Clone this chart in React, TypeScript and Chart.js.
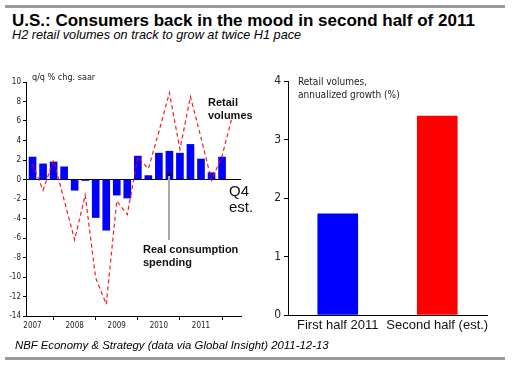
import React, { useEffect, useRef } from "react";
import { Chart, registerables } from "chart.js";
Chart.register(...registerables);

const quarters = [
  "2007Q1", "2007Q2", "2007Q3", "2007Q4",
  "2008Q1", "2008Q2", "2008Q3", "2008Q4",
  "2009Q1", "2009Q2", "2009Q3", "2009Q4",
  "2010Q1", "2010Q2", "2010Q3", "2010Q4",
  "2011Q1", "2011Q2", "2011Q3", "2011Q4",
];
const yearLabels = ["2007", "2008", "2009", "2010", "2011"];
const consumption: (number | null)[] = [
  2.3, 1.6, 1.8, 1.3,
  -1.1, -0.1, -3.9, -5.2,
  -1.6, -1.9, 2.4, 0.4,
  2.7, 2.9, 2.7, 3.6,
  2.1, 0.7, 2.3, null,
];
const retail = [
  1.6, -1.1, 2.0, -2.1,
  -6.2, -1.6, -10.1, -12.8,
  -2.2, -3.6, 2.3, 1.1,
  4.9, 8.9, 3.1, 8.5,
  4.3, -0.1, 2.4, 6.6,
];
const leftTicks = [10, 8, 6, 4, 2, 0, -2, -4, -6, -8, -10, -12, -14];
const halves = ["First half 2011", "Second half (est.)"];
const halfValues = [1.73, 3.4];
const halfColors = ["#0000ff", "#ff0000"];
const rightTicks = [0, 1, 2, 3, 4];

const NARROW = "'Liberation Sans Narrow', 'Arial Narrow', 'DejaVu Sans Condensed', 'Liberation Sans', Arial, sans-serif";
const SANS = "'Liberation Sans', Arial, sans-serif";

function LeftChart() {
  const ref = useRef<HTMLCanvasElement>(null);
  useEffect(() => {
    const chart = new Chart(ref.current!, {
      type: "bar",
      data: {
        datasets: [
          {
            type: "line",
            label: "Retail volumes",
            data: retail.map((v, i) => ({ x: i, y: v })),
            borderColor: "rgba(255,0,0,0.9)",
            borderWidth: 1.2,
            borderDash: [4, 3],
            pointRadius: 0,
            tension: 0,
            order: 0,
          } as any,
          {
            type: "bar",
            label: "Real consumption spending",
            data: consumption.map((v, i) => ({ x: i, y: v })),
            backgroundColor: "#0000ff",
            barThickness: 7,
            order: 1,
          } as any,
        ],
      },
      options: {
        animation: false,
        responsive: false,
        layout: { padding: { top: 12, right: 9, left: 0, bottom: 0 } },
        plugins: { legend: { display: false }, tooltip: { enabled: false } },
        scales: {
          x: {
            type: "linear",
            offset: false,
            min: -0.62,
            max: 19.8,
            afterBuildTicks: (s: any) => {
              s.ticks = yearLabels.map((_, k) => ({ value: quarters.indexOf(yearLabels[k] + "Q1") }));
            },
            afterFit: (s: any) => { s.height = 24; },
            ticks: {
              autoSkip: false,
              maxRotation: 0,
              padding: 1,
              color: "#222",
              font: { family: NARROW, size: 8 },
              callback: (v: any) => quarters[v] ? quarters[v].slice(0, 4) : "",
            },
            grid: { display: true, drawOnChartArea: false, drawTicks: true, tickLength: 4, tickColor: "#000" },
            border: { color: "#000", width: 1 },
          },
          y: {
            min: -14,
            max: 10,
            afterBuildTicks: (s: any) => { s.ticks = leftTicks.map((v) => ({ value: v })); },
            afterFit: (s: any) => { s.width = 26; },
            ticks: { padding: 2, color: "#222", font: { family: NARROW, size: 8 } },
            grid: {
              drawOnChartArea: true,
              drawTicks: true,
              tickLength: 3,
              tickColor: "#000",
              color: (ctx: any) => (ctx.tick && ctx.tick.value === 0 ? "#000" : "rgba(0,0,0,0)"),
            },
            border: { color: "#000", width: 1 },
          },
        },
      } as any,
    });
    return () => chart.destroy();
  }, []);
  return <canvas ref={ref} width={250} height={270} style={{ position: "absolute", left: 0, top: 70 }} />;
}

function RightChart() {
  const ref = useRef<HTMLCanvasElement>(null);
  useEffect(() => {
    const chart = new Chart(ref.current!, {
      type: "bar",
      data: {
        labels: halves,
        datasets: [
          {
            label: "Retail volumes, annualized growth (%)",
            data: halfValues,
            backgroundColor: halfColors,
            barThickness: 40,
          },
        ],
      },
      options: {
        animation: false,
        responsive: false,
        layout: { padding: { top: 11, right: 27, left: 0, bottom: 0 } },
        plugins: { legend: { display: false }, tooltip: { enabled: false } },
        scales: {
          x: {
            afterFit: (s: any) => { s.height = 25; },
            ticks: { padding: 3, color: "#111", font: { family: SANS, size: 13 }, maxRotation: 0, autoSkip: false },
            grid: { display: false, drawTicks: false, tickLength: 0 },
            border: { color: "#000", width: 1 },
          },
          y: {
            min: 0,
            max: 4,
            afterBuildTicks: (s: any) => { s.ticks = rightTicks.map((v) => ({ value: v })); },
            afterFit: (s: any) => { s.width = 28; },
            ticks: { padding: 3, color: "#223", font: { family: NARROW, size: 12 } },
            grid: { drawOnChartArea: false, drawTicks: true, tickLength: 4, tickColor: "#000" },
            border: { color: "#000", width: 1 },
          },
        },
      } as any,
    });
    return () => chart.destroy();
  }, []);
  return <canvas ref={ref} width={254} height={270} style={{ position: "absolute", left: 260, top: 70 }} />;
}

const abs = (s: React.CSSProperties): React.CSSProperties => ({ position: "absolute", whiteSpace: "nowrap", ...s });

export default function App() {
  return (
    <div style={{ position: "fixed", left: 0, top: 0, width: 514, height: 369, background: "#fff", overflow: "hidden", fontFamily: SANS }}>
      <div style={abs({ left: 5, top: 5, width: 500, height: 3, background: "#999" })} />
      <div style={abs({ left: 12, top: 11, fontSize: 17, fontWeight: "bold", color: "#000", lineHeight: "20px" })}>
        U.S.: Consumers back in the mood in second half of 2011
      </div>
      <div style={abs({ left: 12, top: 28, fontSize: 12.7, fontStyle: "italic", color: "#000", lineHeight: "15px" })}>
        H2 retail volumes on track to grow at twice H1 pace
      </div>
      <LeftChart />
      <RightChart />
      <div style={abs({ left: 32, top: 72, fontSize: 9, color: "#222", fontFamily: NARROW, lineHeight: "11px" })}>q/q % chg. saar</div>
      <div style={abs({ left: 208, top: 96, fontSize: 11, fontWeight: "bold", color: "#111", lineHeight: "13px" })}>
        Retail<br />volumes
      </div>
      <div style={abs({ left: 229, top: 183, fontSize: 15, color: "#111", lineHeight: "16px" })}>
        Q4<br />est.
      </div>
      <div style={abs({ left: 143, top: 243, fontSize: 11, fontWeight: "bold", color: "#111", lineHeight: "13px" })}>
        Real consumption<br />spending
      </div>
      <div style={abs({ left: 168, top: 176, width: 2, height: 64, background: "#aaa" })} />
      <div style={abs({ left: 166, top: 172, width: 0, height: 0, borderLeft: "3px solid transparent", borderRight: "3px solid transparent", borderBottom: "4px solid #111" })} />
      <div style={abs({ left: 298, top: 75, fontSize: 10, color: "#222", fontFamily: NARROW, lineHeight: "13px" })}>
        Retail volumes,<br />annualized growth (%)
      </div>
      <div style={abs({ left: 15, top: 338, fontSize: 11.4, fontStyle: "italic", color: "#000", lineHeight: "14px" })}>
        NBF Economy &amp; Strategy (data via Global Insight) 2011-12-13
      </div>
      <div style={abs({ left: 5, top: 357, width: 500, height: 3, background: "#999" })} />
    </div>
  );
}
